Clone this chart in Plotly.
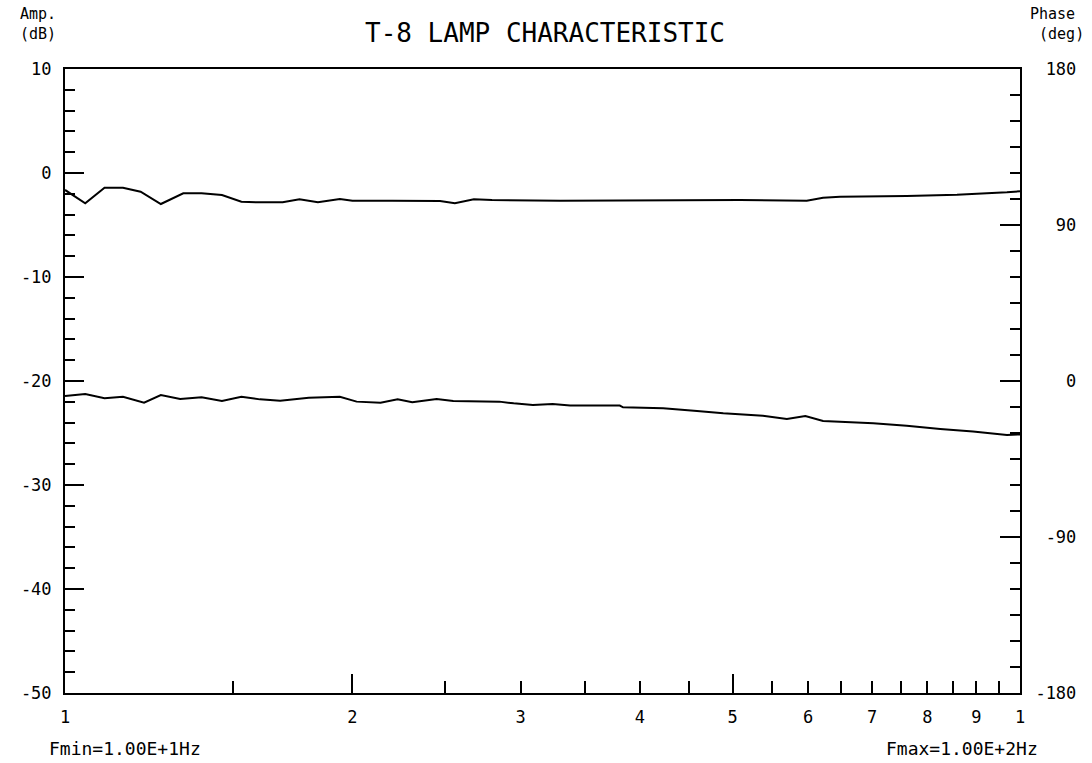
import plotly.graph_objects as go

# ---- data ----
amp_freq = [10.0, 10.5, 11.0, 11.5, 12.0, 12.6, 13.3, 13.9, 14.6, 15.3, 16.0, 16.9, 17.6,
            18.4, 19.4, 20.0, 22.0, 23.9, 24.7, 25.6, 26.8, 28.0, 33.0, 50.9, 59.8, 62.2,
            64.8, 76.1, 85.9, 96.9, 100.0]
amp_db = [-1.63, -2.91, -1.41, -1.41, -1.80, -2.98, -1.95, -1.95, -2.12, -2.76, -2.82, -2.82,
          -2.53, -2.82, -2.50, -2.66, -2.66, -2.69, -2.69, -2.91, -2.53, -2.60, -2.66, -2.60,
          -2.66, -2.38, -2.28, -2.21, -2.09, -1.86, -1.76]

phase_freq = [10.0, 10.5, 11.0, 11.5, 12.1, 12.6, 13.2, 13.9, 14.6, 15.3, 16.0, 16.8, 18.0,
              19.4, 20.2, 21.4, 22.3, 23.1, 24.5, 25.5, 28.5, 29.5, 30.9, 32.4, 33.8, 38.1,
              38.4, 42.3, 45.9, 48.9, 53.8, 57.0, 59.6, 62.2, 70.2, 76.1, 82.5, 89.3, 96.9,
              100.0]
phase_deg = [-8.7, -7.5, -10.0, -9.1, -12.5, -8.1, -10.4, -9.4, -11.5, -9.1, -10.6, -11.4,
             -9.6, -9.1, -11.9, -12.5, -10.6, -12.3, -10.4, -11.5, -11.9, -12.9, -13.8, -13.3,
             -14.2, -14.2, -15.2, -15.7, -17.3, -18.6, -20.0, -21.9, -20.2, -23.1, -24.4,
             -25.8, -27.7, -29.2, -31.2, -30.8]

x_tickvals = [10, 20, 30, 40, 50, 60, 70, 80, 90, 100]
x_ticktext = ["1", "2", "3", "4", "5", "6", "7", "8", "9", "1"]
x_minorvals = [15, 25, 35, 45, 55, 65, 75, 85, 95]
x_longvals = [20, 50]

amp_tickvals = [-50, -40, -30, -20, -10, 0, 10]
amp_ticktext = ["-50", "-40", "-30", "-20", "-10", "0", "10"]
ph_tickvals = [-180, -90, 0, 90, 180]
ph_ticktext = ["-180", "\u00a0-90", "\u00a0\u00a0\u00a00", "\u00a0\u00a090", "\u00a0180"]

FONT = "DejaVu Sans Mono"
INK = "black"

fig = go.Figure()
fig.add_trace(go.Scatter(x=amp_freq, y=amp_db, mode="lines", xaxis="x", yaxis="y",
                         line=dict(color=INK, width=2), showlegend=False, hoverinfo="skip"))
fig.add_trace(go.Scatter(x=phase_freq, y=phase_deg, mode="lines", xaxis="x2", yaxis="y2",
                         line=dict(color=INK, width=2), showlegend=False, hoverinfo="skip"))

fig.update_layout(
    width=1092, height=763,
    margin=dict(l=65, r=72, t=69, b=70),
    paper_bgcolor="white", plot_bgcolor="white",
    font=dict(family=FONT, color=INK, size=17),
    xaxis=dict(type="log", range=[1, 2], tickmode="array", tickvals=x_tickvals,
               ticktext=x_ticktext, ticks="inside", ticklen=12, tickwidth=2, tickcolor=INK,
               showline=True, linecolor=INK, linewidth=2, mirror=True, showgrid=False,
               zeroline=False, ticklabelstandoff=8, tickfont=dict(size=17),
               minor=dict(tickmode="array", tickvals=x_minorvals, ticks="inside",
                          ticklen=12, tickwidth=2, tickcolor=INK, showgrid=False)),
    xaxis2=dict(type="log", range=[1, 2], overlaying="x", anchor="y", side="bottom",
                tickmode="array", tickvals=x_longvals, ticks="inside", ticklen=19,
                tickwidth=2, tickcolor=INK, showticklabels=False, showline=False,
                showgrid=False, zeroline=False),
    yaxis=dict(range=[-50, 10], tickmode="array", tickvals=amp_tickvals,
               ticktext=amp_ticktext, ticks="inside", ticklen=19, tickwidth=2,
               tickcolor=INK, showline=True, linecolor=INK, linewidth=2, showgrid=False,
               zeroline=False, ticklabelstandoff=8, tickfont=dict(size=17),
               minor=dict(dtick=2, tick0=0, ticks="inside", ticklen=10, tickwidth=2,
                          tickcolor=INK, showgrid=False)),
    yaxis2=dict(range=[-180, 180], overlaying="y", anchor="x", side="right",
                tickmode="array", tickvals=ph_tickvals, ticktext=ph_ticktext,
                ticks="inside", ticklen=20, tickwidth=2, tickcolor=INK, showline=True,
                linecolor=INK, linewidth=2, showgrid=False, zeroline=False,
                ticklabelstandoff=10, tickfont=dict(size=17),
                minor=dict(dtick=15, tick0=0, ticks="inside", ticklen=10, tickwidth=2,
                           tickcolor=INK, showgrid=False)),
)

fig.add_annotation(text="T-8 LAMP CHARACTERISTIC", x=(545 - 65) / 955, y=1 + 36 / 624,
                   xanchor="center", yanchor="middle", font=dict(size=26, family=FONT, color=INK),
                   xref="paper", yref="paper", showarrow=False)
fig.add_annotation(text="Amp.<br>(dB)", x=(18 - 65) / 955, y=1 + 45 / 624,
                   xanchor="left", yanchor="middle", align="left",
                   font=dict(size=15, family=FONT, color=INK),
                   xref="paper", yref="paper", showarrow=False)
fig.add_annotation(text="Phase<br>\u00a0(deg)", x=(1028 - 65) / 955, y=1 + 45 / 624,
                   xanchor="left", yanchor="middle", align="left",
                   font=dict(size=15, family=FONT, color=INK),
                   xref="paper", yref="paper", showarrow=False)
fig.add_annotation(text="Fmin=1.00E+1Hz", x=(125 - 65) / 955, y=-(748 - 693) / 624,
                   xanchor="center", yanchor="middle",
                   font=dict(size=18, family=FONT, color=INK),
                   xref="paper", yref="paper", showarrow=False)
fig.add_annotation(text="Fmax=1.00E+2Hz", x=(962 - 65) / 955, y=-(748 - 693) / 624,
                   xanchor="center", yanchor="middle",
                   font=dict(size=18, family=FONT, color=INK),
                   xref="paper", yref="paper", showarrow=False)

fig.write_html("out.html", config={"displayModeBar": False, "staticPlot": True},
               post_script="document.body.style.margin='0';document.body.style.overflow='hidden';")
